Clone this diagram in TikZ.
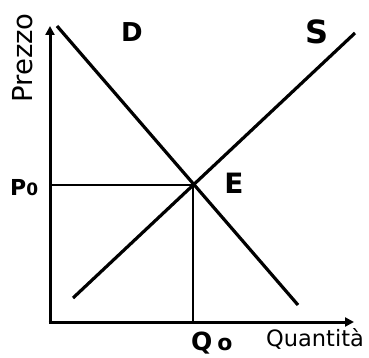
\documentclass[tikz,border=0pt]{standalone}
\usepackage{fontspec}
\setmainfont{DejaVu Sans}
\usetikzlibrary{arrows.meta}
\begin{document}
\begin{tikzpicture}[x=1pt,y=-1pt,
  axis/.style={line width=3pt, -{Triangle[length=9pt,width=9pt]}},
  curve/.style={line width=3.2pt},
  guide/.style={line width=1.5pt},
  lab/.style={inner sep=0pt, font=\bfseries},
  txt/.style={inner sep=0pt}]
\useasboundingbox (0,0) rectangle (369,358);
\fill[white] (0,0) rectangle (369,358);
% coordinates
\coordinate (O) at (50,322);
\coordinate (Ytop) at (50,26);
\coordinate (Xend) at (354,322);
\coordinate (Dtop) at (57,26);
\coordinate (Dbot) at (298,305);
\coordinate (Stop) at (355,33);
\coordinate (Sbot) at (73,298);
\coordinate (Eq) at (193,185);
\coordinate (Pax) at (50,185);
\coordinate (Qax) at (193,322);
% guides
\draw[guide] (Pax) -- (Eq);
\draw[guide] (Eq) -- (Qax);
% axes
\draw[axis] (O) -- (Ytop);
\draw[axis] ([xshift=-1.5pt]O) -- (Xend);
% curves
\draw[curve] (Dtop) -- (Dbot);
\draw[curve] (Sbot) -- (Stop);
% labels
\node[txt, rotate=90, font=\fontsize{27.5}{27.5}\selectfont] (prezzo) at (22.5,58) {Prezzo};
\node[txt, anchor=base west, font=\fontsize{22.5}{22.5}\selectfont] (quant) at (266,346) {Quantità};
\node[lab, font=\bfseries\fontsize{26}{26}\selectfont] (Dl) at (132,32) {D};
\node[lab, font=\bfseries\fontsize{32}{32}\selectfont] (Sl) at (317,32) {S};
\node[lab, font=\bfseries\fontsize{28}{28}\selectfont] (El) at (234,183) {E};
\node[lab, anchor=base west, font=\bfseries\fontsize{22}{22}\selectfont] (P0l) at (10,195) {P{\fontsize{17}{17}\selectfont 0}};
\node[lab, anchor=base west, font=\bfseries\fontsize{25}{25}\selectfont] (Q0l) at (191,350) {Q\hspace{5pt}{\fontsize{22}{22}\selectfont o}};
\end{tikzpicture}
\end{document}
